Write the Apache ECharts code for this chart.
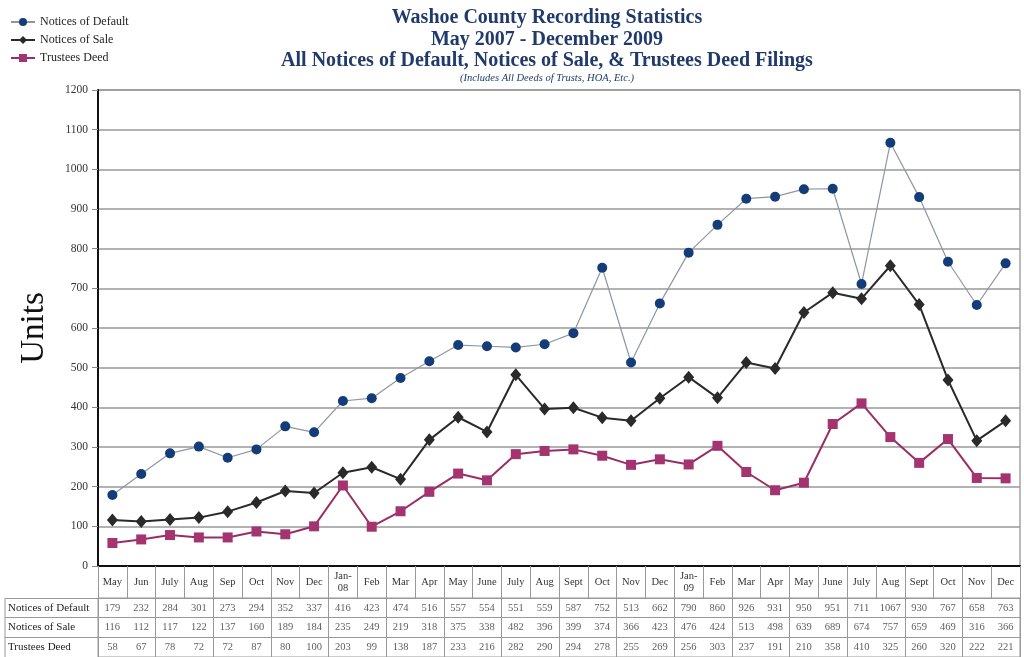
<!DOCTYPE html>
<html><head><meta charset="utf-8">
<script src="https://cdn.jsdelivr.net/npm/echarts@6/dist/echarts.min.js"></script>
<style>html,body{margin:0;padding:0;background:#fff}#c{width:1024px;height:657px}</style>
</head><body><div id="c"></div>
<script>
const months = ['May','Jun','July','Aug','Sep','Oct','Nov','Dec','Jan-\n08','Feb','Mar','Apr','May','June','July','Aug','Sept','Oct','Nov','Dec','Jan-\n09','Feb','Mar','Apr','May','June','July','Aug','Sept','Oct','Nov','Dec'];
const noticesDefault = [179,232,284,301,273,294,352,337,416,423,474,516,557,554,551,559,587,752,513,662,790,860,926,931,950,951,711,1067,930,767,658,763];
const noticesSale = [116,112,117,122,137,160,189,184,235,249,219,318,375,338,482,396,399,374,366,423,476,424,513,498,639,689,674,757,659,469,316,366];
const trusteesDeed = [58,67,78,72,72,87,80,100,203,99,138,187,233,216,282,290,294,278,255,269,256,303,237,191,210,358,410,325,260,320,222,221];
const seriesNames = ['Notices of Default','Notices of Sale','Trustees Deed'];
const yTicks = {min:0, max:1200, interval:100};

const serif = '"Liberation Serif", "DejaVu Serif", serif';
const tableData = [];
[noticesDefault, noticesSale, trusteesDeed].forEach((arr, r) => {
  arr.forEach((v, i) => tableData.push([i, r, v]));
});

const titleStyle = {fontFamily:serif, fontSize:20, fontWeight:'bold', color:'#1f3a6b'};
const chart = echarts.init(document.getElementById('c'));
chart.setOption({
  animation: false,
  backgroundColor: '#fff',
  title: [
    {text:'Washoe County Recording Statistics', left:542, top:3, textAlign:'center', textStyle:titleStyle},
    {text:'May 2007 - December 2009', left:542, top:25, textAlign:'center', textStyle:titleStyle},
    {text:'All Notices of Default, Notices of Sale, & Trustees Deed Filings', left:542, top:46, textAlign:'center', textStyle:titleStyle},
    {text:'(Includes All Deeds of Trusts, HOA, Etc.)', left:542, top:68, textAlign:'center',
     textStyle:{fontFamily:serif, fontSize:10.5, fontStyle:'italic', fontWeight:'normal', color:'#1f3a6b'}}
  ],
  legend: {
    orient:'vertical', left:5, top:11, itemGap:6, itemWidth:24, itemHeight:10,
    data: seriesNames,
    textStyle:{fontFamily:serif, fontSize:12, color:'#222'}
  },
  grid: [
    {left:98, top:90, width:922, height:476, show:true, borderColor:'#777', borderWidth:1},
    {left:98, top:598, width:922, height:62, show:true, borderColor:'#999', borderWidth:1}
  ],
  xAxis: [
    {type:'category', gridIndex:0, data:months, boundaryGap:true,
     axisLine:{show:true, lineStyle:{color:'#111', width:2}},
     axisTick:{show:true, length:32, lineStyle:{color:'#999', width:1}},
     axisLabel:{interval:0, margin:16, verticalAlign:'middle', lineHeight:12,
       fontFamily:serif, fontSize:10.5, color:'#333'},
     splitLine:{show:false}},
    {type:'category', gridIndex:1, data:months, boundaryGap:true,
     axisLine:{show:false}, axisTick:{show:false}, axisLabel:{show:false},
     splitLine:{show:true, lineStyle:{color:'#999', width:1}}}
  ],
  yAxis: [
    {type:'value', gridIndex:0, min:yTicks.min, max:yTicks.max, interval:yTicks.interval,
     name:'Units', nameLocation:'middle', nameGap:47,
     nameTextStyle:{fontFamily:serif, fontSize:33, color:'#111'},
     axisLine:{show:true, lineStyle:{color:'#111', width:2}},
     axisTick:{show:true, length:6, lineStyle:{color:'#888'}},
     axisLabel:{fontFamily:serif, fontSize:11.5, color:'#333', margin:10, formatter: v => String(v)},
     splitLine:{show:true, lineStyle:{color:'#999', width:1.5}}},
    {type:'category', gridIndex:1, data:seriesNames, inverse:true,
     axisLine:{show:false},
     axisTick:{show:true, length:93, lineStyle:{color:'#999'}},
     axisLabel:{align:'left', margin:90, fontFamily:serif, fontSize:11, color:'#222'},
     splitLine:{show:true, lineStyle:{color:'#999', width:1}}}
  ],
  graphic: [
    {type:'line', shape:{x1:5, y1:598, x2:5, y2:657}, style:{stroke:'#999', lineWidth:1}}
  ],
  series: [
    {name:seriesNames[0], type:'line', xAxisIndex:0, yAxisIndex:0, data:noticesDefault,
     symbol:'circle', symbolSize:10,
     lineStyle:{color:'#8d96a6', width:1.2},
     itemStyle:{color:'#133c78'}},
    {name:seriesNames[1], type:'line', xAxisIndex:0, yAxisIndex:0, data:noticesSale,
     symbol:'diamond', symbolSize:[11,13],
     lineStyle:{color:'#2a2a2a', width:2},
     itemStyle:{color:'#2a2a2a'}},
    {name:seriesNames[2], type:'line', xAxisIndex:0, yAxisIndex:0, data:trusteesDeed,
     symbol:'rect', symbolSize:10,
     lineStyle:{color:'#9b2d66', width:2},
     itemStyle:{color:'#a33470'}},
    {type:'scatter', xAxisIndex:1, yAxisIndex:1, data:tableData, symbolSize:1, silent:true,
     itemStyle:{color:'rgba(0,0,0,0)'},
     label:{show:true, position:'inside', formatter:p => String(p.value[2]),
       fontFamily:serif, fontSize:10.5, color:'#333'}}
  ]
});
</script></body></html>
